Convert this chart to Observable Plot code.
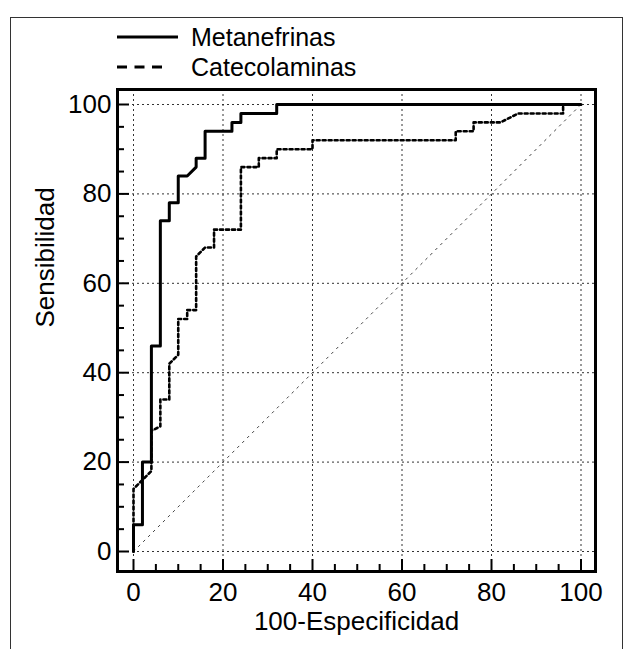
<!DOCTYPE html>
<html>
<head>
<meta charset="utf-8">
<script src="https://cdn.jsdelivr.net/npm/d3@7"></script>
<script src="https://cdn.jsdelivr.net/npm/@observablehq/plot@0.6"></script>
<style>
  html, body { margin: 0; padding: 0; background: #fff; overflow: hidden; }
  #page { position: relative; width: 635px; height: 649px; overflow: hidden; font-family: "Liberation Sans", Arial, sans-serif; }
  #border { position: absolute; left: 10px; top: 17px; width: 613px; height: 720px; border: 1.5px solid #333; box-sizing: border-box; }
  #chart { position: absolute; left: 0; top: 0; }
  #legend { position: absolute; left: 0; top: 0; }
</style>
</head>
<body>
<div id="page">
  <div id="border"></div>
  <div id="chart"></div>
  <svg id="legend" width="635" height="85"></svg>
</div>
<script>
// ---- data ----
const seriesNames = ["Metanefrinas", "Catecolaminas"];
const metX = [0, 0, 2, 2, 4, 4, 6, 6, 8, 8, 10, 10, 12, 14, 14, 16, 16, 22, 22, 24, 24, 32, 32, 100];
const metY = [0, 6, 6, 20, 20, 46, 46, 74, 74, 78, 78, 84, 84, 86, 88, 88, 94, 94, 96, 96, 98, 98, 100, 100];
const catX = [0, 0, 2, 4, 4, 6, 6, 8, 8, 10, 10, 12, 12, 14, 14, 16, 18, 18, 24, 24, 28, 28, 32, 32, 40, 40, 72, 72, 76, 76, 82, 86, 96, 96, 100];
const catY = [0, 14, 16, 18, 27, 28, 34, 34, 42, 44, 52, 52, 54, 54, 66, 68, 68, 72, 72, 86, 86, 88, 88, 90, 90, 92, 92, 94, 94, 96, 96, 98, 98, 100, 100];
const diagX = [0, 100];
const diagY = [0, 100];
const majorTicks = [0, 20, 40, 60, 80, 100];
const minorTicks = [5, 10, 15, 25, 30, 35, 45, 50, 55, 65, 70, 75, 85, 90, 95];
const xLabel = "100-Especificidad";
const yLabel = "Sensibilidad";

const met = metX.map((x, i) => ({x, y: metY[i]}));
const cat = catX.map((x, i) => ({x, y: catY[i]}));
const diag = diagX.map((x, i) => ({x, y: diagY[i]}));

const FONT = "Liberation Sans, Arial, Helvetica, sans-serif";

const chart = Plot.plot({
  width: 635,
  height: 649,
  marginTop: 89,
  marginRight: 40,
  marginBottom: 78,
  marginLeft: 117,
  x: {domain: [0, 100], insetLeft: 16, insetRight: 14.5},
  y: {domain: [0, 100], insetTop: 15, insetBottom: 20},
  style: {fontFamily: FONT, fontSize: "26px", color: "#000", background: "transparent", overflow: "visible"},
  marks: [
    Plot.gridX(majorTicks, {stroke: "#333", strokeOpacity: 1, strokeWidth: 1, strokeDasharray: "2,3"}),
    Plot.gridY(majorTicks, {stroke: "#333", strokeOpacity: 1, strokeWidth: 1, strokeDasharray: "2,3"}),
    Plot.line(diag, {x: "x", y: "y", stroke: "#444", strokeWidth: 1, strokeDasharray: "2,5"}),
    Plot.line(cat, {x: "x", y: "y", stroke: "#000", strokeWidth: 2.6, strokeDasharray: "3,3"}),
    Plot.line(met, {x: "x", y: "y", stroke: "#000", strokeWidth: 3}),
    Plot.frame({stroke: "#000", strokeWidth: 3}),
    // inward ticks
    Plot.axisX(majorTicks, {tickSize: 12, dy: -12, fill: "none", stroke: "#000", strokeWidth: 2, label: null}),
    Plot.axisX(minorTicks, {tickSize: 7, dy: -7, fill: "none", stroke: "#000", strokeWidth: 2, label: null}),
    Plot.axisY(majorTicks, {tickSize: 12, dx: 12, fill: "none", stroke: "#000", strokeWidth: 2, label: null}),
    Plot.axisY(minorTicks, {tickSize: 7, dx: 7, fill: "none", stroke: "#000", strokeWidth: 2, label: null}),
    // tick labels
    Plot.axisX(majorTicks, {tickSize: 0, tickPadding: 11, fontSize: 26, label: null}),
    Plot.axisY(majorTicks, {tickSize: 0, tickPadding: 6, fontSize: 26, label: null}),
    // axis titles
    Plot.text([xLabel], {text: d => d, frameAnchor: "bottom", dy: 58, fontSize: 26, fill: "#000"}),
    Plot.text([yLabel], {text: d => d, frameAnchor: "left", dx: -72, dy: -3, rotate: -90, fontSize: 26, fill: "#000"})
  ]
});
document.getElementById("chart").appendChild(chart);

// ---- legend ----
const legend = d3.select("#legend");
const legendRows = [
  {name: seriesNames[0], y: 37, x2: 178, dash: null, width: 3},
  {name: seriesNames[1], y: 67, x2: 162, dash: "10,7.5", width: 3}
];
legendRows.forEach(r => {
  legend.append("line")
    .attr("x1", 117).attr("x2", r.x2)
    .attr("y1", r.y).attr("y2", r.y)
    .attr("stroke", "#000").attr("stroke-width", r.width)
    .attr("stroke-dasharray", r.dash);
  legend.append("text")
    .attr("x", 191).attr("y", r.y + 9)
    .attr("font-family", FONT).attr("font-size", 25)
    .attr("fill", "#000")
    .text(r.name);
});
</script>
</body>
</html>
